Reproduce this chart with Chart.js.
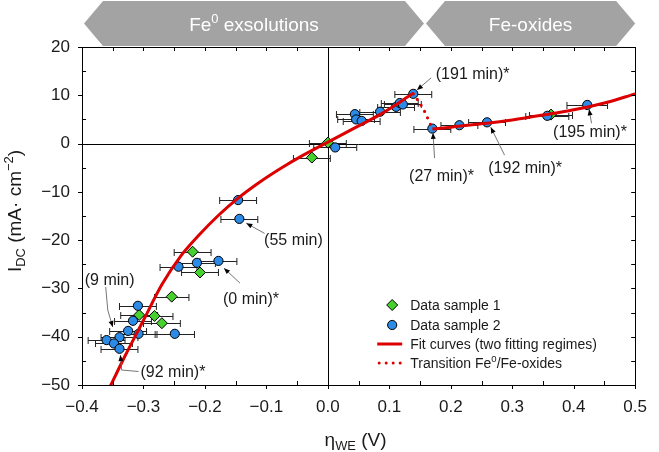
<!DOCTYPE html>
<html>
<head>
<meta charset="utf-8">
<script src="https://cdn.jsdelivr.net/npm/chart.js@4.4.0/dist/chart.umd.min.js"></script>
<style>
  html, body { margin: 0; padding: 0; background: #fff; }
</style>
</head>
<body>
<canvas id="chart" width="659" height="452"></canvas>
<script>
// values
const xTicks = [-0.4, -0.3, -0.2, -0.1, 0.0, 0.1, 0.2, 0.3, 0.4, 0.5];
const yTicks = [-50, -40, -30, -20, -10, 0, 10, 20];

// Data sample 1 (green diamonds)
const s1X   = [-0.026, 0.000, -0.220, -0.208, -0.254, -0.282, -0.307, -0.270, 0.363];
const s1Y   = [-2.9, 0.2, -22.4, -26.7, -31.7, -35.7, -35.5, -37.2, 6.0];
const s1Err = [0.03, 0.03, 0.03, 0.03, 0.028, 0.03, 0.03, 0.03, 0.035];

// Data sample 2 (blue circles)
const s2X   = [-0.146, -0.144, 0.012, -0.243, -0.213, -0.178, -0.309, -0.317, -0.325, -0.308,
               -0.249, -0.339, -0.360, -0.348, -0.339, 0.044, 0.046, 0.055, 0.085, 0.111,
               0.117, 0.122, 0.139, 0.170, 0.214, 0.259, 0.357, 0.422];
const s2Y   = [-11.7, -15.6, -0.8, -25.5, -24.7, -24.3, -33.6, -36.7, -38.8, -39.4,
               -39.4, -40.1, -40.7, -41.4, -42.5, 6.1, 5.0, 4.7, 6.6, 7.6,
               8.4, 8.1, 10.3, 3.1, 3.8, 4.4, 5.75, 8.0];
const s2Err = [0.03, 0.03, 0.035, 0.03, 0.03, 0.03, 0.03, 0.03, 0.03, 0.03,
               0.032, 0.03, 0.03, 0.03, 0.03, 0.03, 0.03, 0.03, 0.033, 0.03,
               0.03, 0.03, 0.03, 0.03, 0.03, 0.03, 0.035, 0.033];

// fit curve, regime 1 (Fe0 exsolutions)
const fit1X = [-0.36, -0.35, -0.33, -0.30, -0.27, -0.24, -0.21, -0.18, -0.146, -0.11, -0.075, -0.04, 0.0, 0.043, 0.086, 0.139];
const fit1Y = [-51.8, -49.2, -44.0, -36.6, -29.2, -23.4, -19.0, -15.1, -11.3, -7.9, -5.0, -2.4, 0.3, 3.2, 6.1, 10.4];
// fit curve, regime 2 (Fe-oxides)
const fit2X = [0.170, 0.20, 0.25, 0.30, 0.35, 0.40, 0.45, 0.50];
const fit2Y = [3.0, 3.4, 4.1, 4.9, 5.9, 7.0, 8.4, 10.3];
// transition between the two regimes (dotted)
const trX = [0.139, 0.150, 0.158, 0.164, 0.170];
const trY = [10.3, 8.3, 6.5, 4.8, 3.1];

const FONT = '"Liberation Sans", Arial, Helvetica, sans-serif';
const RED = '#dd0000';
const BLUE = '#2b8be6';
const GREEN = '#47d12e';

const pts = (xs, ys) => xs.map((x, i) => ({x: x, y: ys[i]}));
const fmt = v => (v < 0 ? '\u2212' : '') + Math.abs(v);

// labels with leader arrows, positions in data units
const notes = [
  {text: '(191 min)*', at: [0.2356, 14.2], path: [[0.168, 13.6], [0.145, 11.1]]},
  {text: '(27 min)*',  at: [0.185, -6.9],  path: [[0.1736, -3.0], [0.171, 2.2]]},
  {text: '(192 min)*', at: [0.321, -5.1],  path: [[0.2875, -2.4], [0.265, 3.4]]},
  {text: '(195 min)*', at: [0.4265, 2.2],  path: [[0.429, 4.2], [0.425, 7.1]]},
  {text: '(55 min)',   at: [-0.056, -20.0], path: [[-0.103, -18.6], [-0.1326, -16.5]]},
  {text: '(0 min)*',   at: [-0.125, -32.4], path: [[-0.143, -28.9], [-0.169, -25.8]]},
  {text: '(9 min)',    at: [-0.355, -28.3], path: [[-0.3615, -29.7], [-0.358, -34.5], [-0.35, -38.0]]},
  {text: '(92 min)*',  at: [-0.252, -47.5], path: [[-0.308, -47.2], [-0.3355, -46.9], [-0.3375, -43.8]]}
];

// text with sub/superscript parts
function richWidth(ctx, segs, size) {
  let w = 0;
  segs.forEach(s => {
    ctx.font = ((s.sub || s.sup) ? size * 0.68 : size) + 'px ' + FONT;
    w += ctx.measureText(s.t).width;
  });
  return w;
}
function drawRich(ctx, segs, x, y, size, align) {
  const w = richWidth(ctx, segs, size);
  let cx = align === 'center' ? x - w / 2 : x;
  ctx.textAlign = 'left';
  ctx.textBaseline = 'alphabetic';
  segs.forEach(s => {
    const small = s.sub || s.sup;
    ctx.font = (small ? size * 0.68 : size) + 'px ' + FONT;
    const dy = s.sup ? -size * 0.4 : (s.sub ? size * 0.22 : 0);
    ctx.fillText(s.t, cx, y + dy);
    cx += ctx.measureText(s.t).width;
  });
}

function diamond(ctx, x, y, r) {
  ctx.beginPath();
  ctx.moveTo(x, y - r); ctx.lineTo(x + r, y); ctx.lineTo(x, y + r); ctx.lineTo(x - r, y);
  ctx.closePath();
  ctx.fillStyle = GREEN; ctx.fill();
  ctx.lineWidth = 1; ctx.strokeStyle = '#000'; ctx.stroke();
}

const decor = {
  id: 'decor',
  beforeDatasetsDraw(chart) {
    const ctx = chart.ctx, a = chart.chartArea;
    const xs = chart.scales.x, ys = chart.scales.y;
    ctx.save();
    // zero lines
    ctx.strokeStyle = '#000'; ctx.lineWidth = 1;
    const x0 = Math.round(xs.getPixelForValue(0)) + 0.5;
    const y0 = Math.round(ys.getPixelForValue(0)) + 0.5;
    ctx.beginPath();
    ctx.moveTo(x0, a.top); ctx.lineTo(x0, a.bottom);
    ctx.moveTo(a.left, y0); ctx.lineTo(a.right, y0);
    ctx.stroke();
    // horizontal error bars
    ctx.strokeStyle = '#222'; ctx.lineWidth = 1;
    chart.data.datasets.forEach(ds => {
      if (!ds.xErr) return;
      ds.data.forEach((p, i) => {
        const e = ds.xErr[i];
        const l = xs.getPixelForValue(p.x - e), r = xs.getPixelForValue(p.x + e);
        const y = Math.round(ys.getPixelForValue(p.y)) + 0.5;
        ctx.beginPath();
        ctx.moveTo(l, y); ctx.lineTo(r, y);
        ctx.moveTo(l, y - 3.5); ctx.lineTo(l, y + 3.5);
        ctx.moveTo(r, y - 3.5); ctx.lineTo(r, y + 3.5);
        ctx.stroke();
      });
    });
    ctx.restore();
  },
  afterDraw(chart) {
    const ctx = chart.ctx, a = chart.chartArea;
    const xs = chart.scales.x, ys = chart.scales.y;
    ctx.save();

    // frame and ticks
    ctx.strokeStyle = '#000'; ctx.lineWidth = 1;
    ctx.strokeRect(Math.round(a.left) + 0.5, Math.round(a.top) + 0.5,
                   Math.round(a.right - a.left), Math.round(a.bottom - a.top));
    const T = 4;
    ctx.beginPath();
    xTicks.forEach((v, i) => {
      const px = Math.round(xs.getPixelForValue(v)) + 0.5;
      ctx.moveTo(px, a.bottom); ctx.lineTo(px, a.bottom + T);
      ctx.moveTo(px, a.top); ctx.lineTo(px, a.top + T);
      if (i < xTicks.length - 1) {
        const pm = Math.round(xs.getPixelForValue((v + xTicks[i + 1]) / 2)) + 0.5;
        ctx.moveTo(pm, a.bottom); ctx.lineTo(pm, a.bottom - T);
        ctx.moveTo(pm, a.top); ctx.lineTo(pm, a.top + T);
      }
    });
    yTicks.forEach((v, i) => {
      const py = Math.round(ys.getPixelForValue(v)) + 0.5;
      ctx.moveTo(a.left - T, py); ctx.lineTo(a.left, py);
      ctx.moveTo(a.right - T, py); ctx.lineTo(a.right, py);
      if (i < yTicks.length - 1) {
        const pm = Math.round(ys.getPixelForValue((v + yTicks[i + 1]) / 2)) + 0.5;
        ctx.moveTo(a.left, pm); ctx.lineTo(a.left + T, pm);
        ctx.moveTo(a.right - T, pm); ctx.lineTo(a.right, pm);
      }
    });
    ctx.stroke();

    // annotations with arrows
    notes.forEach(n => {
      const p = n.path.map(q => [xs.getPixelForValue(q[0]), ys.getPixelForValue(q[1])]);
      ctx.strokeStyle = '#666'; ctx.lineWidth = 0.9;
      ctx.beginPath();
      p.forEach((q, i) => i ? ctx.lineTo(q[0], q[1]) : ctx.moveTo(q[0], q[1]));
      ctx.stroke();
      const t = p[p.length - 1], s = p[p.length - 2];
      const ang = Math.atan2(t[1] - s[1], t[0] - s[0]);
      ctx.fillStyle = '#000';
      ctx.beginPath();
      ctx.moveTo(t[0], t[1]);
      ctx.lineTo(t[0] - 6 * Math.cos(ang) + 2.5 * Math.sin(ang), t[1] - 6 * Math.sin(ang) - 2.5 * Math.cos(ang));
      ctx.lineTo(t[0] - 6 * Math.cos(ang) - 2.5 * Math.sin(ang), t[1] - 6 * Math.sin(ang) + 2.5 * Math.cos(ang));
      ctx.closePath(); ctx.fill();
      ctx.fillStyle = '#1a1a1a';
      ctx.font = '16px ' + FONT;
      ctx.textAlign = 'center'; ctx.textBaseline = 'middle';
      ctx.fillText(n.text, xs.getPixelForValue(n.at[0]), ys.getPixelForValue(n.at[1]));
    });

    // legend
    const lx = a.right - 225, rows = [a.bottom - 80, a.bottom - 60, a.bottom - 41, a.bottom - 22];
    const sx = a.right - 243;
    diamond(ctx, sx, rows[0], 5.5);
    ctx.beginPath(); ctx.arc(sx, rows[1], 4.6, 0, Math.PI * 2);
    ctx.fillStyle = BLUE; ctx.fill(); ctx.strokeStyle = '#000'; ctx.lineWidth = 1; ctx.stroke();
    ctx.strokeStyle = RED; ctx.lineWidth = 3;
    ctx.beginPath(); ctx.moveTo(a.right - 258, rows[2]); ctx.lineTo(a.right - 233, rows[2]); ctx.stroke();
    ctx.lineCap = 'round'; ctx.setLineDash([0, 7]);
    ctx.beginPath(); ctx.moveTo(a.right - 256, rows[3]); ctx.lineTo(a.right - 233, rows[3]); ctx.stroke();
    ctx.setLineDash([]); ctx.lineCap = 'butt';
    ctx.fillStyle = '#1a1a1a';
    const lfs = 14, lb = lfs * 0.36;
    drawRich(ctx, [{t: 'Data sample 1'}], lx, rows[0] + lb, lfs, 'left');
    drawRich(ctx, [{t: 'Data sample 2'}], lx, rows[1] + lb, lfs, 'left');
    drawRich(ctx, [{t: 'Fit curves (two fitting regimes)'}], lx, rows[2] + lb, lfs, 'left');
    drawRich(ctx, [{t: 'Transition Fe'}, {t: '0', sup: true}, {t: '/Fe-oxides'}], lx, rows[3] + lb, lfs, 'left');

    // axis titles
    drawRich(ctx, [{t: '\u03b7'}, {t: 'WE', sub: true}, {t: ' (V)'}],
             (a.left + a.right) / 2 - 3, 446, 19, 'center');
    ctx.save();
    ctx.translate(20.5, (a.top + a.bottom) / 2 - 5);
    ctx.rotate(-Math.PI / 2);
    drawRich(ctx, [{t: 'I'}, {t: 'DC', sub: true}, {t: ' (mA\u00b7 cm'}, {t: '\u22122', sup: true}, {t: ')'}],
             0, 0, 19, 'center');
    ctx.restore();

    // regime banner
    const split = xs.getPixelForValue(0.158);
    const hexes = [
      {l: a.left + 2, r: split - 1, segs: [{t: 'Fe'}, {t: '0', sup: true}, {t: ' exsolutions'}]},
      {l: split + 1, r: a.right, segs: [{t: 'Fe-oxides'}]}
    ];
    const top = 1, bot = 46, mid = (top + bot) / 2, d = 19;
    hexes.forEach(h => {
      ctx.fillStyle = '#a3a3a3';
      ctx.beginPath();
      ctx.moveTo(h.l, mid); ctx.lineTo(h.l + d, top); ctx.lineTo(h.r - d, top);
      ctx.lineTo(h.r, mid); ctx.lineTo(h.r - d, bot); ctx.lineTo(h.l + d, bot);
      ctx.closePath(); ctx.fill();
      ctx.fillStyle = '#fff';
      drawRich(ctx, h.segs, (h.l + h.r) / 2, 31, 19, 'center');
    });

    ctx.restore();
  }
};

new Chart(document.getElementById('chart'), {
  type: 'scatter',
  data: {
    datasets: [
      {type: 'line', label: 'Fit curves (two fitting regimes)', data: pts(fit1X, fit1Y), borderColor: RED,
       borderWidth: 3, pointRadius: 0, cubicInterpolationMode: 'monotone', fill: false, clip: 0, order: 0},
      {type: 'line', label: 'Fit regime 2', data: pts(fit2X, fit2Y), borderColor: RED,
       borderWidth: 3, pointRadius: 0, cubicInterpolationMode: 'monotone', fill: false, clip: 0, order: 0},
      {type: 'line', label: 'Transition Fe0/Fe-oxides', data: pts(trX, trY), borderColor: RED,
       borderWidth: 3.2, borderDash: [0, 7], borderCapStyle: 'round', pointRadius: 0,
       cubicInterpolationMode: 'monotone', fill: false, order: 0},
      {label: 'Data sample 2', data: pts(s2X, s2Y), xErr: s2Err, pointStyle: 'circle', pointRadius: 4.6,
       backgroundColor: BLUE, borderColor: '#000', borderWidth: 1, order: 1},
      {label: 'Data sample 1', data: pts(s1X, s1Y), xErr: s1Err, pointStyle: 'rectRot', pointRadius: 5.5,
       backgroundColor: GREEN, borderColor: '#000', borderWidth: 1, order: 2}
    ]
  },
  options: {
    responsive: false,
    animation: false,
    events: [],
    layout: {padding: {top: 47, right: 13, left: 0, bottom: 0}},
    plugins: {legend: {display: false}, tooltip: {enabled: false}},
    scales: {
      x: {
        type: 'linear', min: -0.4, max: 0.5,
        afterBuildTicks: s => { s.ticks = xTicks.map(v => ({value: v})); },
        afterFit: s => { s.height = 67; },
        grid: {display: false, drawTicks: false},
        border: {display: false},
        ticks: {color: '#1a1a1a', padding: 12, font: {family: FONT, size: 17},
                callback: v => (v < 0 ? '\u2212' : '') + Math.abs(v).toFixed(1)}
      },
      y: {
        type: 'linear', min: -50, max: 20,
        afterBuildTicks: s => { s.ticks = yTicks.map(v => ({value: v})); },
        afterFit: s => { s.width = 82; },
        grid: {display: false, drawTicks: false},
        border: {display: false},
        ticks: {color: '#1a1a1a', padding: 12, font: {family: FONT, size: 17}, callback: fmt}
      }
    }
  },
  plugins: [decor]
});
</script>
</body>
</html>
